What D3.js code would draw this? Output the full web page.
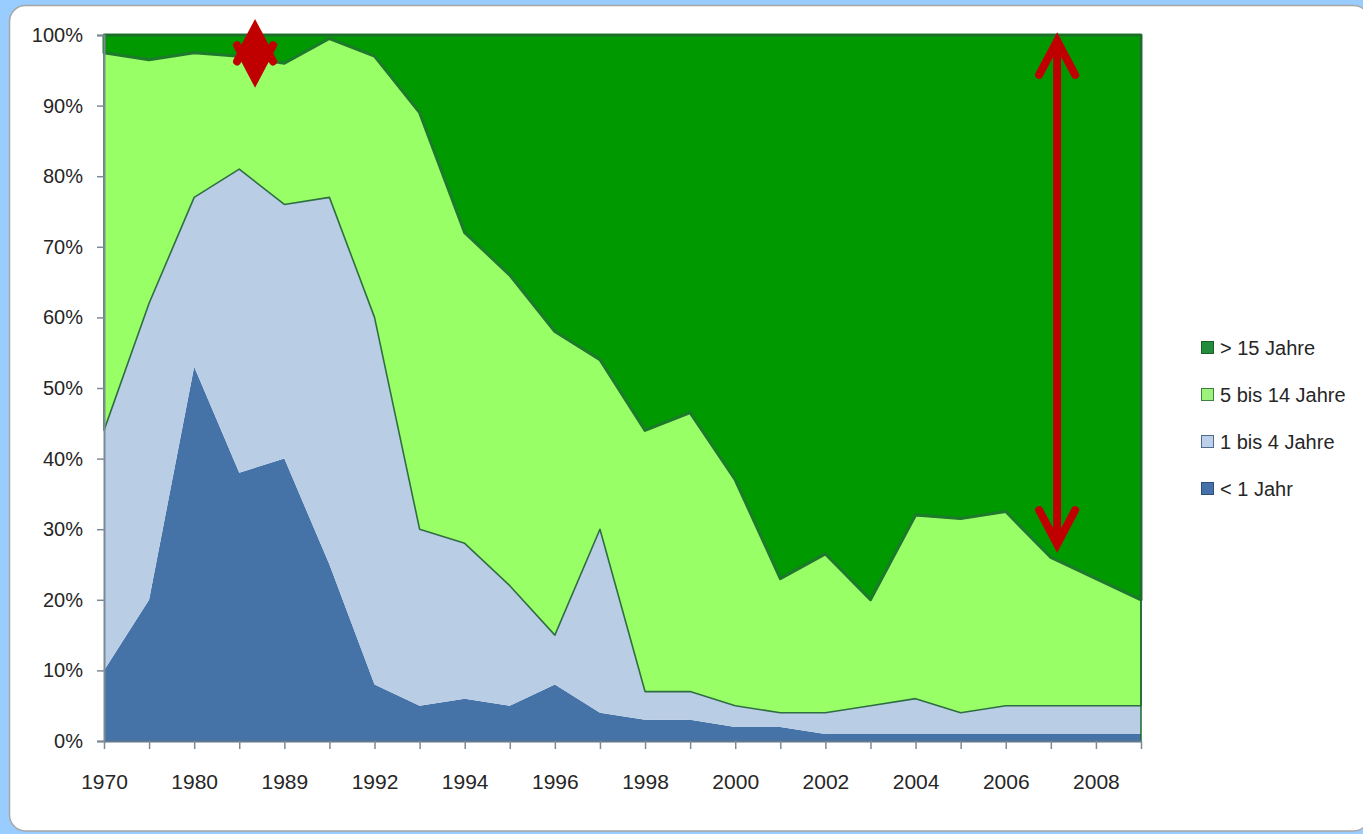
<!DOCTYPE html>
<html>
<head>
<meta charset="utf-8">
<script src="https://cdn.jsdelivr.net/npm/d3@7"></script>
<style>
  html, body { margin: 0; padding: 0; background: #99ccff; }
  svg { display: block; }
  text { font-family: "Liberation Sans", Arial, sans-serif; fill: #262626; }
</style>
</head>
<body>
<svg id="chart" width="1363" height="834"></svg>
<script>
// Jahre (every other one is labelled on the axis)
const years = ["1970","1975","1980","1985","1989","1990","1992","1993","1994","1995","1996","1997",
               "1998","1999","2000","2001","2002","2003","2004","2005","2006","2007","2008","2009"];

// Anteile in % je Altersklasse
const unter1   = [10, 20, 53, 38, 40, 25, 8, 5, 6, 5, 8, 4, 3, 3, 2, 2, 1, 1, 1, 1, 1, 1, 1, 1];
const bis4     = [34, 42, 24, 43, 36, 52, 52, 25, 22, 17, 7, 26, 4, 4, 3, 2, 3, 4, 5, 3, 4, 4, 4, 4];
const bis14    = [53.5, 34.5, 20.5, 16, 20, 22.5, 37, 59, 44, 44, 43, 24, 37, 39.5, 32, 19, 22.5, 15, 26, 27.5, 27.5, 21, 18, 15];
const ueber15  = [2.5, 3.5, 2.5, 3, 4, 0.5, 3, 11, 28, 34, 42, 46, 56, 53.5, 63, 77, 73.5, 80, 68, 68.5, 67.5, 74, 77, 80];

const seriesNames = ["< 1 Jahr", "1 bis 4 Jahre", "5 bis 14 Jahre", "> 15 Jahre"];
const yTicks = [0, 10, 20, 30, 40, 50, 60, 70, 80, 90, 100];

// Markierungen: Position (Kategorie-Index) und Pfeilspitzen in %
const arrows = [
  { at: 3.35, top: 102.2, bottom: 92.6 },
  { at: 21.14, top: 100.3, bottom: 26.75 }
];

const svg = d3.select("#chart");

// white rounded panel
svg.append("rect")
  .attr("x", 9.5).attr("y", 5.5).attr("width", 1360).attr("height", 825.5)
  .attr("rx", 16).attr("ry", 16)
  .attr("fill", "#ffffff").attr("stroke", "#a6a6a6").attr("stroke-width", 1.5);

const plot = { left: 104, right: 1141, top: 35, bottom: 741 };

const x = d3.scalePoint().domain(years).range([plot.left, plot.right]);
const xi = d3.scaleLinear().domain([0, years.length - 1]).range([plot.left, plot.right]);
const y = d3.scaleLinear().domain([0, 100]).range([plot.bottom, plot.top]);

const rows = years.map((yr, i) => ({
  year: yr,
  [seriesNames[0]]: unter1[i],
  [seriesNames[1]]: bis4[i],
  [seriesNames[2]]: bis14[i],
  [seriesNames[3]]: ueber15[i]
}));

const stack = d3.stack().keys(seriesNames);
const layers = stack(rows);

const fills   = ["#4572a7", "#b9cde5", "#99ff66", "#009900"];
const strokes = ["none", "none", "#2f6e44", "#1d7a2c"];
const widths  = [0, 0, 1.6, 3];

const area = d3.area()
  .x(d => x(d.data.year))
  .y0(d => y(d[0]))
  .y1(d => y(d[1]));

const gAreas = svg.append("g");
layers.forEach((layer, k) => {
  gAreas.append("path")
    .datum(layer)
    .attr("d", area)
    .attr("fill", fills[k])
    .attr("stroke", strokes[k])
    .attr("stroke-width", widths[k])
    .attr("stroke-linejoin", "round");
});

// plot area top/right frame
svg.append("path")
  .attr("d", `M${plot.left},${plot.top}H${plot.right}V${plot.bottom}`)
  .attr("fill", "none").attr("stroke", "#1e6b2c").attr("stroke-width", 1.5);

// y axis
const yAxis = svg.append("g")
  .attr("transform", `translate(${plot.left},0)`)
  .call(d3.axisLeft(y).tickValues(yTicks).tickFormat(d => d + "%").tickSize(7).tickPadding(14));
yAxis.select(".domain").attr("stroke", "#7d8a96").attr("stroke-width", 2);
yAxis.selectAll(".tick line").attr("stroke", "#7d8a96").attr("stroke-width", 1.5);
yAxis.selectAll(".tick text").attr("font-size", 20).attr("font-family", "Liberation Sans, Arial, sans-serif").attr("fill", "#262626");

// x axis
const xAxis = svg.append("g")
  .attr("transform", `translate(0,${plot.bottom})`)
  .call(d3.axisBottom(x).tickSizeInner(8).tickSizeOuter(0).tickPadding(25)
        .tickFormat((d, i) => (i % 2 === 0 ? d : "")));
xAxis.select(".domain").attr("stroke", "#5f7890").attr("stroke-width", 2);
xAxis.selectAll(".tick line").attr("stroke", "#7d8a96").attr("stroke-width", 1.5);
xAxis.selectAll(".tick text").attr("font-size", 21).attr("font-family", "Liberation Sans, Arial, sans-serif").attr("fill", "#262626");

// legend (top series first)
const legendOrder = [3, 2, 1, 0];
const swatchFill   = ["#4472a8", "#bcd0ea", "#9cf27a", "#228b3c"];
const swatchStroke = ["#2d4f7a", "#4f6c8c", "#3f7f3f", "#1b5e29"];
const legend = svg.append("g");
legendOrder.forEach((k, j) => {
  const cy = 348 + j * 47;
  legend.append("rect")
    .attr("x", 1201.5).attr("y", cy - 6.5).attr("width", 12).attr("height", 12)
    .attr("fill", swatchFill[k]).attr("stroke", swatchStroke[k]).attr("stroke-width", 1);
  legend.append("text")
    .attr("x", 1220).attr("y", cy).attr("dy", "0.36em")
    .attr("font-size", 20)
    .text(seriesNames[k]);
});

// red double-headed arrows
const red = "#c00000";
const armDx = 18, armDy = 34, inset = 8;
const gArrows = svg.append("g");
arrows.forEach(a => {
  const ax = xi(a.at);
  const yt = y(a.top) + inset;
  const yb = y(a.bottom) - inset;
  // when both heads overlap the arrow collapses into a solid diamond
  if (yb - yt < 2 * armDy) {
    gArrows.append("path")
      .attr("d", `M${ax},${yt}L${ax - armDx},${yt + armDy}L${ax - armDx},${yb - armDy}` +
                 `L${ax},${yb}L${ax + armDx},${yb - armDy}L${ax + armDx},${yt + armDy}Z`)
      .attr("fill", red).attr("stroke", "none");
  }
  gArrows.append("line")
    .attr("x1", ax).attr("x2", ax).attr("y1", yt + 4).attr("y2", yb - 4)
    .attr("stroke", red).attr("stroke-width", 8);
  gArrows.append("path")
    .attr("d", `M${ax - armDx},${yt + armDy}L${ax},${yt}L${ax + armDx},${yt + armDy}`)
    .attr("fill", "none").attr("stroke", red).attr("stroke-width", 8)
    .attr("stroke-linecap", "round").attr("stroke-linejoin", "miter").attr("stroke-miterlimit", 10);
  gArrows.append("path")
    .attr("d", `M${ax - armDx},${yb - armDy}L${ax},${yb}L${ax + armDx},${yb - armDy}`)
    .attr("fill", "none").attr("stroke", red).attr("stroke-width", 8)
    .attr("stroke-linecap", "round").attr("stroke-linejoin", "miter").attr("stroke-miterlimit", 10);
});
</script>
</body>
</html>
